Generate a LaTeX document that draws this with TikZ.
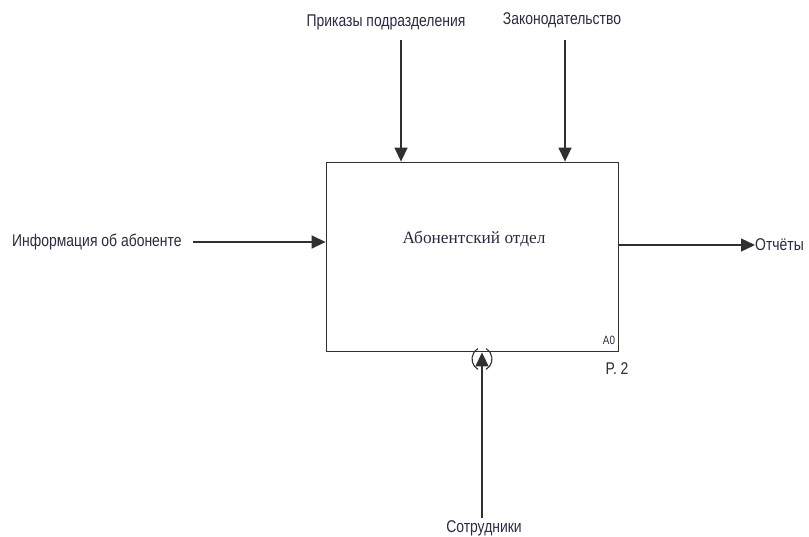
\documentclass[tikz,border=0pt]{standalone}
\usepackage{fontspec}
\setmainfont{Liberation Sans}
\newfontfamily\labelfont[FakeStretch=0.82]{Liberation Sans}
\newfontfamily\boxfont{Liberation Serif}
\usetikzlibrary{arrows.meta}
\definecolor{inkline}{HTML}{303030}
\definecolor{inktext}{HTML}{2A2A40}
\tikzset{
  flow/.style={draw=inkline, line width=1.4pt, -{Triangle[length=14pt,width=13pt]}},
  lbl/.style={text=inktext, font=\labelfont\fontsize{17}{19}\selectfont, inner sep=0pt},
  actbox/.style={draw=inkline, line width=1.8pt, minimum width=292pt, minimum height=189pt, inner sep=0pt}
}
\begin{document}
\begin{tikzpicture}[x=1pt,y=-1pt]
  \useasboundingbox (0,0) rectangle (809,536);
  % activity box A0
  \node[actbox] (box) at (472.5,257) {};
  \node[text=inktext, font=\boxfont\fontsize{17.3}{20}\selectfont, inner sep=0pt] (title) at (474,239) {Абонентский отдел};
  \node[lbl, font=\labelfont\fontsize{12}{14}\selectfont] (num) at (609,340) {A0};
  \node[lbl] (page) at (617,369) {P. 2};
  % controls
  \node[lbl] (ctl1) at (386,22) {Приказы подразделения};
  \node[lbl] (ctl2) at (562,20) {Законодательство};
  \coordinate (c1top) at (401,40);
  \coordinate (c2top) at (565,40);
  \draw[flow] (c1top) -- (c1top |- box.north);
  \draw[flow] (c2top) -- (c2top |- box.north);
  % input
  \node[lbl, anchor=west] (inp) at (12,242) {Информация об абоненте};
  \coordinate (instart) at (193,242);
  \draw[flow] (instart) -- (instart -| box.west);
  % output
  \node[lbl, anchor=west] (outp) at (755,245) {Отчёты};
  \coordinate (outstart) at (box.east |- outp.west);
  \draw[flow] (outstart) -- (outp.west);
  % mechanism with tunnel brackets
  \node[lbl] (mech) at (484,528) {Сотрудники};
  \coordinate (mbot) at (482,518);
  \draw[flow] (mbot) -- (mbot |- box.south);
  \draw[inkline, line width=1.1pt] (484,359) ++(120:12) arc[start angle=120, end angle=240, radius=12];
  \draw[inkline, line width=1.1pt] (480,359) ++(60:12) arc[start angle=60, end angle=-60, radius=12];
\end{tikzpicture}
\end{document}
